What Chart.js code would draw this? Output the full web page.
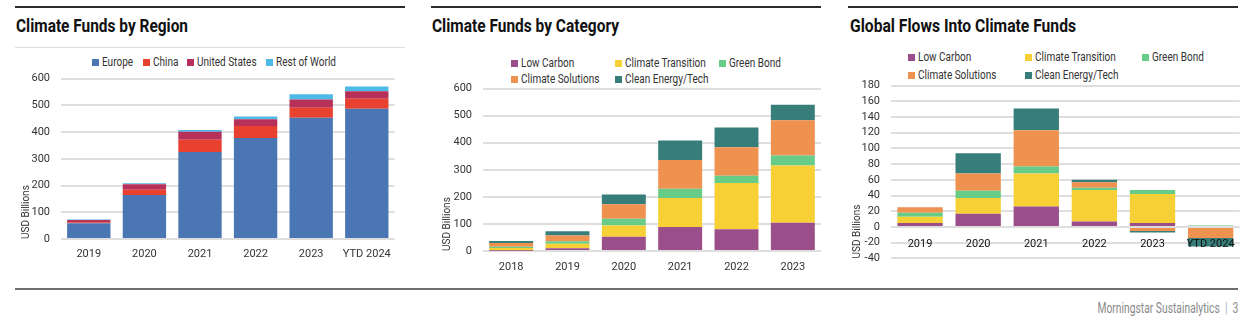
<!DOCTYPE html>
<html>
<head>
<meta charset="utf-8">
<script src="https://cdn.jsdelivr.net/npm/chart.js@4.4.1/dist/chart.umd.min.js"></script>
<style>
  html, body { margin: 0; padding: 0; background: #fff; }
  body { width: 1254px; height: 321px; position: relative; overflow: hidden;
         font-family: Roboto, 'Liberation Sans', sans-serif; color: #222; }
  .topline { position: absolute; top: 6px; height: 2px; background: #2b2b2b; width: 390px; }
  .title { position: absolute; top: 16px; font-size: 18px; font-weight: bold; color: #111; white-space: nowrap;
           transform-origin: 0 0; line-height: 20px; }
  .subline { position: absolute; top: 47px; left: 15px; width: 390px; height: 1px; background: #dedede; }
  .bottomline { position: absolute; top: 288px; left: 15px; width: 1223px; height: 2px; background: #6e6e6e; }
  .footer { position: absolute; top: 300px; right: 16px; font-size: 14px; color: #8a8a8a; white-space: nowrap;
            transform-origin: 100% 0; line-height: 16px; }
  .footer .sep { color: #9fb3c8; margin: 0 7px; }
  .legend { position: absolute; font-size: 12px; color: #333; display: grid; }
  .legend .item { display: flex; align-items: center; white-space: nowrap; height: 16px; }
  .legend .box { width: 7px; height: 7px; margin-right: 3px; flex: none; }
  .legend .txt { display: inline-block; transform-origin: 0 50%; }
  .wrap { position: absolute; line-height: 0; }
  canvas { display: block; }
</style>
</head>
<body>
<div class="topline" style="left:15px"></div>
<div class="topline" style="left:431px"></div>
<div class="topline" style="left:848px"></div>
<div class="title" id="t1" style="left:16px" data-w="172">Climate Funds by Region</div>
<div class="title" id="t2" style="left:432px" data-w="187">Climate Funds by Category</div>
<div class="title" id="t3" style="left:850px" data-w="226">Global Flows Into Climate Funds</div>
<div class="subline"></div>

<div class="legend" id="leg1" style="left:92px; top:54px; grid-template-columns: 51px 44px 79px 90px;"></div>
<div class="legend" id="leg2" style="left:511px; top:55px; grid-template-columns: 104px 104px 104px;"></div>
<div class="legend" id="leg3" style="left:908px; top:49px; grid-template-columns: 117px 117px 117px; row-gap: 2px;"></div>

<div class="wrap" style="left:15px; top:61px;"><canvas id="c1" width="385" height="207"></canvas></div>
<div class="wrap" style="left:431px; top:71px;"><canvas id="c2" width="395" height="207"></canvas></div>
<div class="wrap" style="left:848px; top:68px;"><canvas id="c3" width="398" height="208"></canvas></div>

<div class="bottomline"></div>
<div class="footer" id="foot" data-w="141">Morningstar Sustainalytics<span class="sep">|</span>3</div>

<script>
// ---------- Data ----------
const regionYears = ['2019', '2020', '2021', '2022', '2023', 'YTD 2024'];
const regionNames = ['Europe', 'China', 'United States', 'Rest of World'];
const europe = [59, 165, 325, 378, 454, 487];
const china = [4, 19, 46, 45, 37, 38];
const unitedStates = [8, 21, 30, 25, 31, 28];
const restOfWorld = [2, 4, 7, 10, 19, 17];
const regionTicks = [0, 100, 200, 300, 400, 500, 600];

const categoryYears = ['2018', '2019', '2020', '2021', '2022', '2023'];
const categoryNames = ['Low Carbon', 'Climate Transition', 'Green Bond', 'Climate Solutions', 'Clean Energy/Tech'];
const lowCarbon = [1, 10, 53, 89, 80, 104];
const climateTransition = [10, 17, 41, 107, 171, 212];
const greenBond = [5, 9, 25, 34, 27, 37];
const climateSolutions = [14, 21, 54, 106, 105, 130];
const cleanEnergyTech = [7, 16, 36, 72, 73, 57];
const categoryTicks = [0, 100, 200, 300, 400, 500, 600];

const flowYears = ['2019', '2020', '2021', '2022', '2023', 'YTD 2024'];
const flowLowCarbon = [5, 17, 26, 7, 5, 0];
const flowClimateTransition = [8, 20, 42, 40, 37, 0];
const flowGreenBond = [5, 9, 9, 3, 5, 2];
const flowClimateSolutions = [7, 22, 46, 7, -5, -14];
const flowCleanEnergyTech = [0, 26, 28, 3, -2, -11];
const flowTicks = [-40, -20, 0, 20, 40, 60, 80, 100, 120, 140, 160, 180];

const yAxisTitle = 'USD Billions';

// ---------- Styles ----------
const regionColors = ['#4a77b4', '#e8412f', '#b7305a', '#4cb9e7'];
const categoryColors = ['#9a4f8b', '#f6d034', '#66cc88', '#ef9250', '#377e7b'];
const FONT = "Roboto, 'Liberation Sans', sans-serif";
Chart.defaults.font.family = FONT;
Chart.defaults.color = '#333';

// condense HTML text to the reference widths
function fitWidth(el, target) {
  const w = el.getBoundingClientRect().width;
  if (w > 0) el.style.transform = 'scaleX(' + (target / w) + ')';
}
['t1', 't2', 't3', 'foot'].forEach(id => {
  const el = document.getElementById(id);
  fitWidth(el, +el.dataset.w);
});

const mctx = document.createElement('canvas').getContext('2d');
mctx.font = '12px ' + FONT;
const legendScale = 81 / mctx.measureText('Climate Transition').width;

function buildLegend(id, names, colors) {
  const el = document.getElementById(id);
  names.forEach((n, i) => {
    const it = document.createElement('div');
    it.className = 'item';
    const b = document.createElement('span');
    b.className = 'box';
    b.style.background = colors[i];
    const t = document.createElement('span');
    t.className = 'txt';
    t.textContent = n;
    t.style.transform = 'scaleX(' + legendScale + ')';
    it.appendChild(b); it.appendChild(t);
    el.appendChild(it);
  });
}
buildLegend('leg1', regionNames, regionColors);
buildLegend('leg2', categoryNames, categoryColors);
buildLegend('leg3', categoryNames, categoryColors);

function ds(label, data, color) {
  return {
    label, data, backgroundColor: color,
    borderWidth: 0,
    barPercentage: 0.78, categoryPercentage: 1.0
  };
}

function makeChart(id, labels, datasets, ticks, o) {
  const minV = ticks[0], maxV = ticks[ticks.length - 1];
  const step = ticks[1] - ticks[0];
  const xScale = {
    stacked: true,
    grid: { display: false, drawTicks: false },
    border: { display: false },
    ticks: { font: { size: 11 }, color: '#333', padding: o.xPad, maxRotation: 0, autoSkip: false },
  };
  if (o.xAtZero) { xScale.position = { y: 0 }; xScale.ticks.z = 1; xScale.ticks.color = '#111'; }
  else { xScale.afterFit = s => { s.height = o.xHeight; }; }
  return new Chart(document.getElementById(id), {
    type: 'bar',
    data: { labels, datasets },
    options: {
      responsive: false, animation: false, devicePixelRatio: 1,
      layout: { padding: o.padding },
      plugins: { legend: { display: false }, tooltip: { enabled: false } },
      scales: {
        x: xScale,
        y: {
          stacked: true, min: minV, max: maxV,
          afterFit: s => { s.width = o.yWidth; },
          afterBuildTicks: s => { s.ticks = ticks.map(v => ({ value: v })); },
          ticks: { stepSize: step, autoSkip: false, font: { size: 11 }, color: '#333', padding: o.yPad },
          grid: { color: '#dedede', lineWidth: 2, drawTicks: false },
          border: { display: false },
          title: { display: true, text: yAxisTitle, align: 'start', font: { size: 10 }, color: '#333',
                   padding: { top: o.titlePad, bottom: 0 } }
        }
      }
    }
  });
}

makeChart('c1', regionYears, [
  ds(regionNames[0], europe, regionColors[0]),
  ds(regionNames[1], china, regionColors[1]),
  ds(regionNames[2], unitedStates, regionColors[2]),
  ds(regionNames[3], restOfWorld, regionColors[3]),
], regionTicks, { padding: { top: 3, right: 3, left: 0, bottom: 0 }, yWidth: 46, xHeight: 29, xPad: 9, yPad: 11, titlePad: 5 });

makeChart('c2', categoryYears, [
  ds(categoryNames[0], lowCarbon, categoryColors[0]),
  ds(categoryNames[1], climateTransition, categoryColors[1]),
  ds(categoryNames[2], greenBond, categoryColors[2]),
  ds(categoryNames[3], climateSolutions, categoryColors[3]),
  ds(categoryNames[4], cleanEnergyTech, categoryColors[4]),
], categoryTicks, { padding: { top: 3, right: 5, left: 0, bottom: 0 }, yWidth: 52, xHeight: 27, xPad: 10, yPad: 11, titlePad: 10 });

makeChart('c3', flowYears, [
  ds(categoryNames[0], flowLowCarbon, categoryColors[0]),
  ds(categoryNames[1], flowClimateTransition, categoryColors[1]),
  ds(categoryNames[2], flowGreenBond, categoryColors[2]),
  ds(categoryNames[3], flowClimateSolutions, categoryColors[3]),
  ds(categoryNames[4], flowCleanEnergyTech, categoryColors[4]),
], flowTicks, { padding: { top: 1, right: 5, left: 0, bottom: 0 }, yWidth: 43, xAtZero: true, xPad: 11, yPad: 11, titlePad: 3 });
</script>
</body>
</html>
